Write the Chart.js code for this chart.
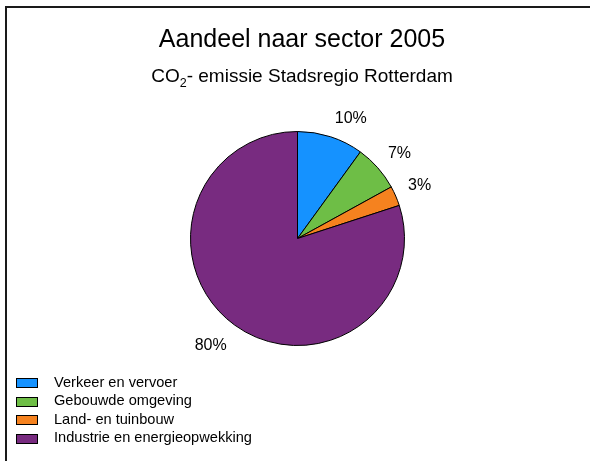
<!DOCTYPE html>
<html>
<head>
<meta charset="utf-8">
<style>
  html, body { margin: 0; padding: 0; background: #ffffff; }
  #wrap { width: 590px; height: 461px; position: relative; }
</style>
<script src="https://cdn.jsdelivr.net/npm/chart.js@4/dist/chart.umd.min.js"></script>
</head>
<body>
<div id="wrap"><canvas id="c" width="590" height="461"></canvas></div>
<script>
// Sectors and their share of CO2 emissions (percent)
const sectors = ['Verkeer en vervoer', 'Gebouwde omgeving', 'Land- en tuinbouw', 'Industrie en energieopwekking'];
const shares = [10, 7, 3, 80];
const sliceColors = ['#1592FF', '#6EBE46', '#F5821F', '#782B80'];

const titleText = 'Aandeel naar sector 2005';
const subtitleParts = ['CO', '2', '- emissie Stadsregio Rotterdam'];

const FONT = '"Liberation Sans", Arial, sans-serif';

// Frame, headings, value labels and the legend
const decorations = {
  id: 'decorations',
  afterDraw(chart) {
    const ctx = chart.ctx;
    ctx.save();

    // frame lines (top and left)
    ctx.strokeStyle = '#1a1a1a';
    ctx.lineWidth = 2;
    ctx.beginPath();
    ctx.moveTo(6, 461);
    ctx.lineTo(6, 7);
    ctx.lineTo(590, 7);
    ctx.stroke();

    const cx = 302;
    // main heading
    ctx.fillStyle = '#000';
    ctx.textBaseline = 'alphabetic';
    ctx.textAlign = 'center';
    ctx.font = '25px ' + FONT;
    ctx.fillText(titleText, cx, 47);

    // sub heading with subscript
    const big = '19px ' + FONT, small = '12.5px ' + FONT;
    ctx.font = big;
    const w0 = ctx.measureText(subtitleParts[0]).width;
    const w2 = ctx.measureText(subtitleParts[2]).width;
    ctx.font = small;
    const w1 = ctx.measureText(subtitleParts[1]).width;
    let x = cx - (w0 + w1 + w2) / 2;
    ctx.textAlign = 'left';
    ctx.font = big;
    ctx.fillText(subtitleParts[0], x, 81.5);
    x += w0;
    ctx.font = small;
    ctx.fillText(subtitleParts[1], x, 86.5);
    x += w1;
    ctx.font = big;
    ctx.fillText(subtitleParts[2], x, 81.5);

    // value labels: the label box corner nearest the pie sits just outside the rim
    const meta = chart.getDatasetMeta(0);
    ctx.font = '16px ' + FONT;
    ctx.textAlign = 'center';
    ctx.textBaseline = 'alphabetic';
    meta.data.forEach((arc, i) => {
      const p = arc.getProps(['x', 'y', 'startAngle', 'endAngle', 'outerRadius'], true);
      const mid = (p.startAngle + p.endAngle) / 2;
      const dx = Math.cos(mid), dy = Math.sin(mid);
      const R = p.outerRadius + 13.5;
      const txt = shares[i] + '%';
      const tw = ctx.measureText(txt).width;
      const hh = 7;
      const lx = p.x + dx * R + Math.sign(dx) * tw / 2;
      const ly = p.y + dy * R + Math.sign(dy) * hh + (dy > 0 ? 1.5 : 0);
      // baseline sits ~6px under the visual centre of the digits
      ctx.fillText(txt, lx, ly + 6);
    });

    // legend
    ctx.font = '14.6px ' + FONT;
    ctx.textAlign = 'left';
    ctx.textBaseline = 'middle';
    ctx.lineWidth = 1;
    ctx.strokeStyle = '#000';
    sectors.forEach((name, i) => {
      const yy = 382.5 + i * 18.6;
      ctx.fillStyle = sliceColors[i];
      ctx.fillRect(16.5, Math.round(yy - 4.5) + 0.5, 21, 9);
      ctx.strokeRect(16.5, Math.round(yy - 4.5) + 0.5, 21, 9);
      ctx.fillStyle = '#000';
      ctx.fillText(name, 54, yy);
    });

    ctx.restore();
  }
};

new Chart(document.getElementById('c'), {
  type: 'pie',
  data: {
    labels: sectors,
    datasets: [{
      data: shares,
      backgroundColor: sliceColors,
      borderColor: '#000',
      borderWidth: 1,
      borderAlign: 'center'
    }]
  },
  options: {
    responsive: false,
    devicePixelRatio: 1,
    animation: false,
    layout: { padding: { left: 190, right: 185, top: 131, bottom: 115 } },
    plugins: {
      legend: { display: false },
      title: { display: false },
      tooltip: { enabled: false }
    }
  },
  plugins: [decorations]
});
</script>
</body>
</html>
